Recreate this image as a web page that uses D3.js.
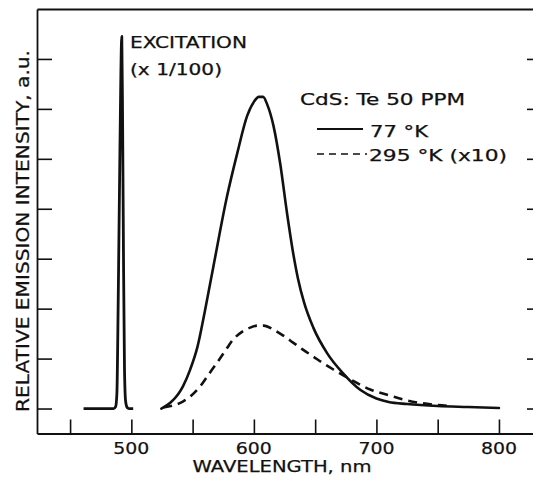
<!DOCTYPE html>
<html>
<head>
<meta charset="utf-8">
<script src="https://cdn.jsdelivr.net/npm/d3@7/dist/d3.min.js"></script>
<style>
  html, body { margin: 0; padding: 0; background: #fff; }
  svg { display: block; }
  text { font-family: "DejaVu Sans", "Liberation Sans", sans-serif; fill: #111; stroke: #111; stroke-width: 0.25; }
</style>
</head>
<body>
<svg id="chart" width="533" height="477"></svg>
<script>
// Wavelength axis ticks (nm) and labelled ticks
const xTicks = [450, 500, 550, 600, 650, 700, 750, 800];
const xLabels = [500, 600, 700, 800];
// Intensity ticks (arbitrary units)
const yTicks = [0, 1, 2, 3, 4, 5, 6, 7];

// Excitation spectrum (x 1/100): [wavelength nm, intensity]
const excitation = [
  [461, 0], [485.5, 0], [487.2, 0.04], [488.2, 0.3], [489.3, 2.2],
  [490.6, 5.0], [492.2, 7.45], [492.9, 5.6], [493.6, 3.0], [494.4, 0.8],
  [495.3, 0.15], [496.6, 0.02], [498, 0], [501.5, 0]
];

// Emission at 77 K
const em77 = [
  [524.5, 0.0], [532, 0.12], [538, 0.28], [542, 0.44], [548, 0.78], [554, 1.24],
  [560, 1.95], [567, 2.85], [578, 4.24], [586.5, 5.12], [594.5, 5.86], [600, 6.14],
  [604, 6.24], [607.5, 6.24], [611, 6.08], [616, 5.66], [621.5, 4.9], [627, 3.92],
  [632, 3.12], [636, 2.6], [641, 2.12], [648.5, 1.62], [660, 1.1], [673, 0.7],
  [687, 0.37], [700, 0.2], [710, 0.13], [725, 0.09], [750, 0.05], [775, 0.03],
  [800, 0.01]
];

// Emission at 295 K (x 10)
const em295 = [
  [526, 0.02], [534, 0.06], [542, 0.14], [549, 0.26], [556, 0.44], [563, 0.68],
  [570, 0.92], [577, 1.17], [583, 1.38], [590, 1.53], [597, 1.62], [603, 1.66],
  [608, 1.66], [616, 1.58], [624, 1.46], [632, 1.32], [640, 1.18], [648.5, 1.04],
  [657, 0.9], [665, 0.78], [679, 0.58], [695, 0.38], [711, 0.26], [722, 0.18],
  [736, 0.11], [750, 0.07], [762, 0.05]
];

const svg = d3.select("#chart");
const ink = "#111";

const x = d3.scaleLinear().domain([423, 833.5]).range([37, 540]);
const y = d3.scaleLinear().domain([-0.5, 8]).range([433.5, 9]);

const axisStyle = g => {
  g.selectAll("path.domain").attr("stroke", ink).attr("stroke-width", 1.8);
  g.selectAll(".tick line").attr("stroke", ink).attr("stroke-width", 1.6);
  g.selectAll(".tick text").remove();
};

// Text helper: lettering set to a fixed run length
const label = (xPos, yPos, str, size, len, anchor = "start") =>
  svg.append("text")
    .attr("x", xPos).attr("y", yPos)
    .attr("font-size", size)
    .attr("text-anchor", anchor)
    .attr("textLength", len)
    .attr("lengthAdjust", "spacingAndGlyphs")
    .text(str);

// Bottom axis with inward ticks
svg.append("g")
  .attr("transform", `translate(0,${y(-0.5)})`)
  .call(d3.axisBottom(x).tickValues(xTicks).tickSizeInner(-14).tickSizeOuter(0))
  .call(axisStyle);

// Labels for the hundreds
xLabels.forEach(d => label(x(d), 454, String(d), 16, 36, "middle"));

// Left and right axes, ticks pointing inward
svg.append("g")
  .attr("transform", `translate(${x(423)},0)`)
  .call(d3.axisLeft(y).tickValues(yTicks).tickSizeInner(-15).tickSizeOuter(0))
  .call(axisStyle);

svg.append("g")
  .attr("transform", `translate(${x(833.5)},0)`)
  .call(d3.axisRight(y).tickValues(yTicks).tickSizeInner(-13).tickSizeOuter(0))
  .call(axisStyle);

// Top border
svg.append("g")
  .attr("transform", `translate(0,${y(8)})`)
  .call(d3.axisTop(x).tickValues([]).tickSizeOuter(0))
  .call(axisStyle);

const line = d3.line()
  .x(d => x(d[0]))
  .y(d => y(d[1]))
  .curve(d3.curveMonotoneX);

svg.append("path")
  .datum(excitation)
  .attr("d", line)
  .attr("fill", "none")
  .attr("stroke", ink)
  .attr("stroke-width", 2.8)
  .attr("stroke-linejoin", "round");

svg.append("path")
  .datum(em77)
  .attr("d", line)
  .attr("fill", "none")
  .attr("stroke", ink)
  .attr("stroke-width", 2.6)
  .attr("stroke-linecap", "round");

svg.append("path")
  .datum(em295)
  .attr("d", line)
  .attr("fill", "none")
  .attr("stroke", ink)
  .attr("stroke-width", 2.6)
  .attr("stroke-dasharray", "9,6");

// Annotations
label(130, 48, "EXCITATION", 15, 117);
label(130, 75, "(x 1/100)", 15, 92);

label(300, 105, "CdS: Te  50 PPM", 15, 165);

svg.append("line")
  .attr("x1", 317).attr("x2", 363).attr("y1", 129).attr("y2", 129)
  .attr("stroke", ink).attr("stroke-width", 2);
label(370, 137, "77 °K", 15, 58);

svg.append("line")
  .attr("x1", 317).attr("x2", 367).attr("y1", 154).attr("y2", 154)
  .attr("stroke", ink).attr("stroke-width", 1.6).attr("stroke-dasharray", "7,5");
label(369, 161, "295 °K (x10)", 15, 138);

// Axis titles
label(282, 472, "WAVELENGTH, nm", 16, 179, "middle");

svg.append("g")
  .attr("transform", "translate(29,231) rotate(-90)")
  .call(g => {
    g.append("text")
      .attr("x", 0).attr("y", 0)
      .attr("font-size", 17)
      .attr("text-anchor", "middle")
      .attr("textLength", 362)
      .attr("lengthAdjust", "spacingAndGlyphs")
      .text("RELATIVE EMISSION INTENSITY, a.u.");
  });
</script>
</body>
</html>
